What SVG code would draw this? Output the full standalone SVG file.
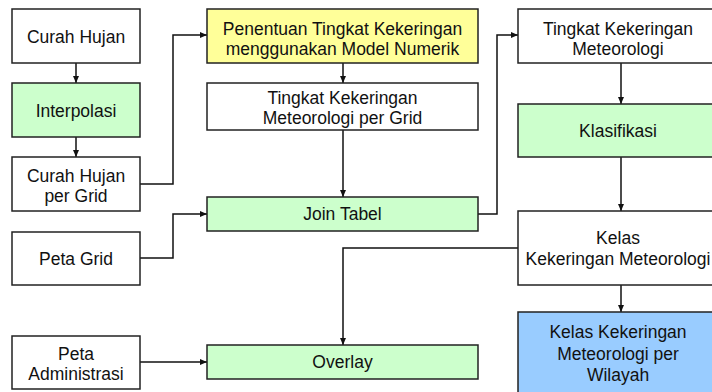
<svg xmlns="http://www.w3.org/2000/svg" width="712" height="392" viewBox="0 0 712 392">
<defs>
<marker id="ah" markerWidth="8" markerHeight="8" refX="7" refY="4" orient="auto" markerUnits="userSpaceOnUse">
<path d="M0,1 L7,4 L0,7 Z" fill="#111"/>
</marker>
<style>
.b{stroke:#222;stroke-width:1.5}
.w{fill:#ffffff}
.g{fill:#ccffcc}
.y{fill:#ffff99}
.bl{fill:#99ccff}
text{font-family:"Liberation Sans",Arial,sans-serif;font-size:17.5px;fill:#111;text-anchor:middle}
.c{fill:none;stroke:#111;stroke-width:1.5;marker-end:url(#ah)}
.n{fill:none;stroke:#111;stroke-width:1.5}
</style>
</defs>
<rect width="712" height="392" fill="#ffffff"/>
<g id="connectors">
<path class="c" d="M76,63 V83"/>
<path class="c" d="M76,137 V157"/>
<path class="c" d="M140,184 H173 V35 H207"/>
<path class="c" d="M140,258 H173 V214 H207"/>
<path class="c" d="M140,362 H207"/>
<path class="c" d="M343,63 V83"/>
<path class="c" d="M343,130 V197"/>
<path class="c" d="M478,214 H497 V35 H518"/>
<path class="c" d="M621,63 V104"/>
<path class="c" d="M621,157 V211"/>
<path class="c" d="M621,285 V312"/>
<path class="c" d="M518,248 H343 V345"/>
</g>
<g id="curah-hujan"><rect class="b w" x="12" y="9" width="128" height="54"/><text x="76" y="43">Curah Hujan</text></g>
<g id="interpolasi"><rect class="b g" x="12" y="83" width="128" height="54"/><text x="76" y="117">Interpolasi</text></g>
<g id="curah-hujan-grid"><rect class="b w" x="12" y="157" width="128" height="54"/><text x="76" y="182">Curah Hujan</text><text x="76" y="202">per Grid</text></g>
<g id="peta-grid"><rect class="b w" x="12" y="232" width="128" height="53"/><text x="76" y="265">Peta Grid</text></g>
<g id="peta-administrasi"><rect class="b w" x="12" y="336" width="128" height="53"/><text x="76" y="360">Peta</text><text x="76" y="380">Administrasi</text></g>
<g id="penentuan"><rect class="b y" x="207" y="9" width="271" height="54"/><text x="342.5" y="34.5">Penentuan Tingkat Kekeringan</text><text x="342.5" y="54.5">menggunakan Model Numerik</text></g>
<g id="tingkat-grid"><rect class="b w" x="207" y="83" width="271" height="47"/><text x="342.5" y="104">Tingkat Kekeringan</text><text x="342.5" y="124">Meteorologi per Grid</text></g>
<g id="join-tabel"><rect class="b g" x="207" y="197" width="271" height="34"/><text x="342.5" y="220">Join Tabel</text></g>
<g id="overlay"><rect class="b g" x="207" y="345" width="271" height="34"/><text x="342.5" y="368">Overlay</text></g>
<g id="tingkat-meteorologi"><rect class="b w" x="518" y="9" width="200" height="54"/><text x="618" y="34.5">Tingkat Kekeringan</text><text x="618" y="54.5">Meteorologi</text></g>
<g id="klasifikasi"><rect class="b g" x="518" y="104" width="200" height="53"/><text x="618" y="137">Klasifikasi</text></g>
<g id="kelas"><rect class="b w" x="518" y="211" width="200" height="74"/><text x="618" y="244">Kelas</text><text x="618" y="265">Kekeringan Meteorologi</text></g>
<g id="kelas-wilayah"><rect class="b bl" x="518" y="312" width="200" height="90"/><text x="618" y="338">Kelas Kekeringan</text><text x="618" y="360">Meteorologi per</text><text x="618" y="381">Wilayah</text></g>
</svg>
